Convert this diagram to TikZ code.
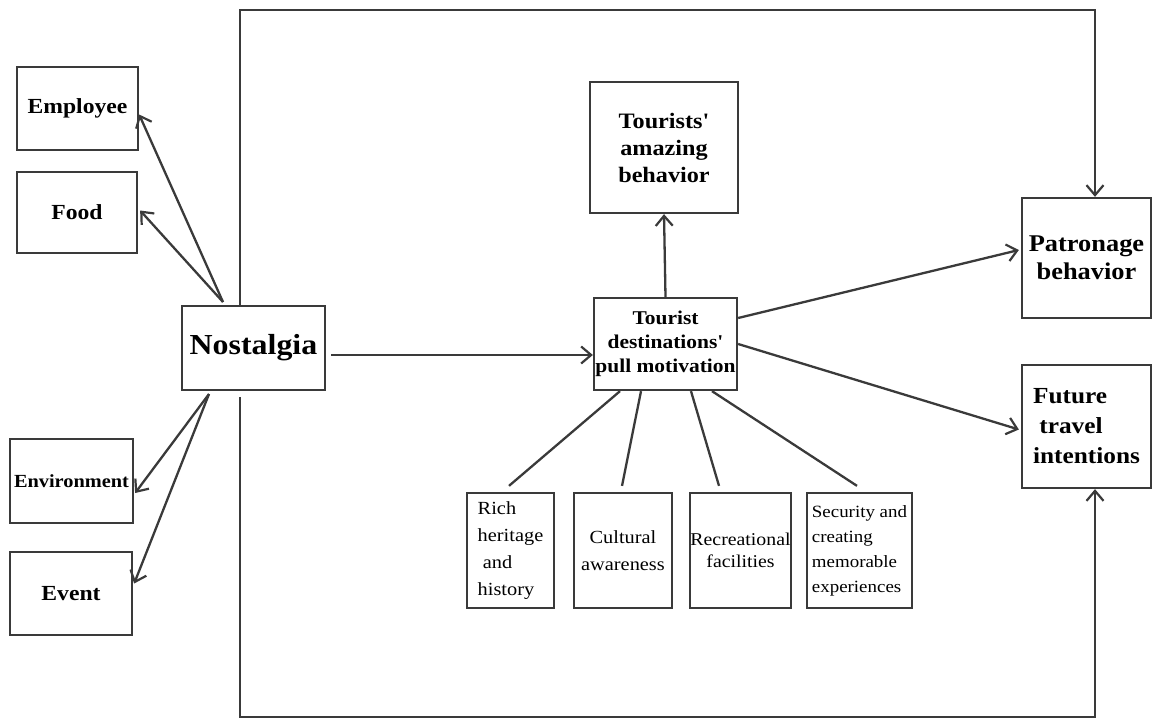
\documentclass[tikz,border=0pt]{standalone}
\usepackage{fontspec}
\setmainfont[FakeStretch=1.1, Ligatures=TeXOff]{Liberation Serif}
\usetikzlibrary{arrows.meta}
\definecolor{ink}{HTML}{3A3A3A}
\tikzset{
  box/.style={draw=ink, line width=2.3pt, fill=white, inner sep=0pt, text=black},
  lnk/.style={draw=ink, line width=2.3pt},
  arr/.style={lnk, -{Straight Barb[length=10pt,width=17pt,line width=2.2pt]}},
}
\newcommand{\fs}[2]{\fontsize{#1}{#2}\selectfont}
\begin{document}
\begin{tikzpicture}[x=1pt,y=-1pt]
\useasboundingbox (0,0) rectangle (1153,720);
% left boxes
\node[box, minimum width=121pt, minimum height=83pt, font=\fs{21.5}{25}\bfseries] (emp) at (77.5,108.5) {Employee};
\node[box, minimum width=120pt, minimum height=81pt, font=\fs{21.5}{25}\bfseries] (food) at (77,212.5) {Food};
\node[box, minimum width=143pt, minimum height=84pt, font=\fs{29}{32}\bfseries] (nost) at (253.5,348) {Nostalgia};
\node[box, minimum width=123pt, minimum height=84pt, font=\fs{18.5}{22}\bfseries] (env) at (71.5,481) {Environment};
\node[box, minimum width=122pt, minimum height=83pt, font=\fs{21.5}{25}\bfseries] (event) at (71,593.5) {Event};
% centre
\node[box, minimum width=148pt, minimum height=131pt, align=center, font=\fs{22}{27}\bfseries] (ta) at (664,147.5) {Tourists'\\amazing\\behavior};
\node[box, minimum width=143pt, minimum height=92pt, align=center, font=\fs{19.5}{24}\bfseries] (td) at (665.5,344) {Tourist\\destinations'\\pull motivation};
% right
\node[box, minimum width=129pt, minimum height=120pt, align=center, font=\fs{24}{28}\bfseries] (pat) at (1086.5,258) {Patronage\\behavior};
\node[box, minimum width=129pt, minimum height=123pt, align=left, font=\fs{23}{30}\bfseries] (fut) at (1086.5,426.5) {Future\\\ travel\\intentions};
% bottom
\node[box, minimum width=87pt, minimum height=115pt, align=left, font=\fs{18.5}{27}] (rich) at (510.5,550.5) {Rich\\heritage\\\ and\\history};
\node[box, minimum width=98pt, minimum height=115pt, align=center, font=\fs{18.5}{27}] (cult) at (623,550.5) {Cultural\\awareness};
\node[box, minimum width=101pt, minimum height=115pt, align=center, font=\fs{18}{22}] (rec) at (740.5,550.5) {Recreational\\facilities};
\node[box, minimum width=105pt, minimum height=115pt, align=left, font=\fs{17.2}{25}] (sec) at (859.5,550.5) {Security and\\creating\\memorable\\experiences};
% coordinates
\coordinate (nsrc) at (223,302);
\coordinate (nsrc2) at (209,394);
\coordinate (topL) at (240,10);
\coordinate (topR) at (1095,10);
\coordinate (botL) at (240,717);
\coordinate (botR) at (1095,717);
% nostalgia arrows
\draw[arr] (nsrc) -- ([yshift=-6pt]emp.east);
\draw[arr] (nsrc) -- ([yshift=2pt,xshift=2pt]food.east);
\draw[arr] (nsrc2) -- ([yshift=-12pt,xshift=1pt]env.east);
\draw[arr] (nsrc2) -- ([yshift=10pt,xshift=1pt]event.east);
% loop
\draw[arr] ([xshift=-13.5pt]nost.north) -- (topL) -- (topR) -- ([xshift=8.5pt]pat.north);
\draw[arr] ([xshift=-13.5pt,yshift=-6pt]nost.south) -- (botL) -- (botR) -- ([xshift=8.5pt]fut.south);
% main arrows
\draw[arr] ([xshift=5pt,yshift=-7pt]nost.east) -- ([yshift=-11pt]td.west);
\draw[arr] (td.north) -- (ta.south);
\draw[arr] ([yshift=26pt]td.east) -- ([yshift=8pt,xshift=-2pt]pat.west);
\draw[arr] (td.east) -- ([yshift=-3pt,xshift=-2pt]fut.west);
% sub-factors
\draw[lnk] ([xshift=-45.5pt]td.south) -- ([xshift=-1.5pt,yshift=6pt]rich.north);
\draw[lnk] ([xshift=-24.5pt]td.south) -- ([xshift=-1pt,yshift=6pt]cult.north);
\draw[lnk] ([xshift=25.5pt]td.south) -- ([xshift=-21.5pt,yshift=6pt]rec.north);
\draw[lnk] ([xshift=46.5pt]td.south) -- ([xshift=-2.5pt,yshift=6pt]sec.north);
\end{tikzpicture}
\end{document}
